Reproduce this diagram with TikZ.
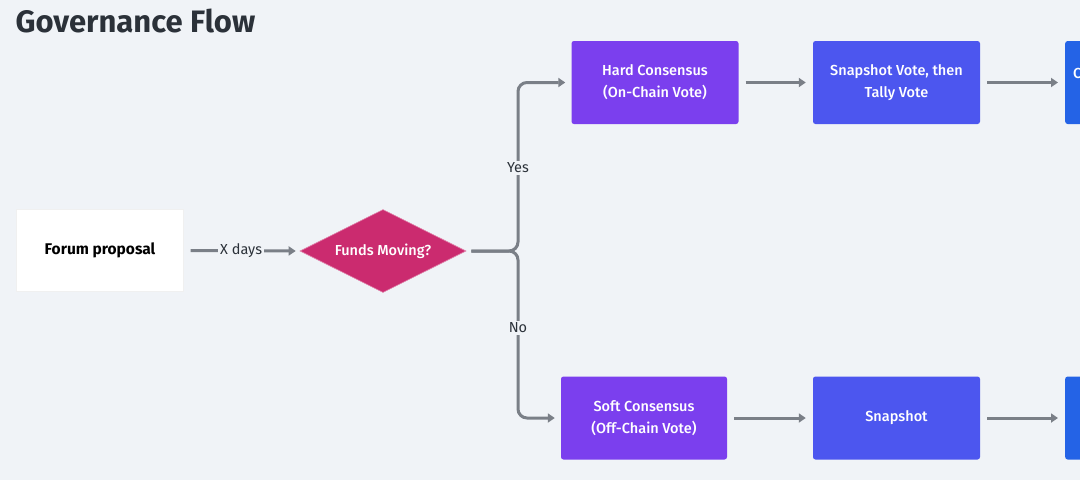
\documentclass[tikz,border=0pt]{standalone}
\usepackage{fontspec}
\setmainfont{Fira Sans}[UprightFont=* Medium, BoldFont=* Bold]
\newfontfamily\regfont{Fira Sans}
\usetikzlibrary{arrows.meta,shapes.geometric}
\definecolor{bg}{HTML}{F0F3F7}
\definecolor{titlec}{HTML}{2B3139}
\definecolor{purp}{HTML}{7B3FEE}
\definecolor{indig}{HTML}{4C56EF}
\definecolor{bluec}{HTML}{2463E6}
\definecolor{mag}{HTML}{CB2B6F}
\definecolor{conn}{HTML}{7A7F87}
\tikzset{
  box/.style={rectangle, rounded corners=2.5pt, minimum width=#1, minimum height=83pt, inner sep=0pt, align=center, text=white, font=\fontsize{14.5}{22}\selectfont},
  box/.default=167pt,
  purplebox/.style={box=#1, fill=purp},
  purplebox/.default=167pt,
  indigobox/.style={box, fill=indig},
  bluebox/.style={box, fill=bluec},
  conn/.style={draw=conn, line width=3pt, -{Triangle[length=7pt,width=9pt]}},
  connlab/.style={fill=bg, inner sep=2pt, text=titlec, font=\regfont\fontsize{14.5}{16}\selectfont},
}
\begin{document}
\begin{tikzpicture}[x=1pt,y=-1pt]
\useasboundingbox (0,0) rectangle (1080,480);
\fill[bg] (0,0) rectangle (1080,480);
\clip (0,0) rectangle (1080,480);
\node[anchor=west, text=titlec, font=\fontsize{31}{32}\selectfont\bfseries] (title) at (12,21) {Governance Flow};

\node[rectangle, fill=white, draw=black!6, minimum width=167pt, minimum height=82pt, inner sep=0pt, font=\fontsize{15.5}{17}\selectfont\bfseries] (forum) at (100,250.5) {Forum proposal};
\node[diamond, fill=mag, draw=mag!60!white, line width=0.6pt, minimum width=166pt, minimum height=83pt, inner sep=0pt, aspect=2, text=white, font=\fontsize{14.5}{16}\selectfont] (funds) at (383,251) {Funds Moving?};

\node[purplebox] (hard) at (655,82.5) {Hard Consensus\\(On-Chain Vote)};
\node[indigobox] (snapvote) at (896.5,82.5) {Snapshot Vote, then\\Tally Vote};
\node[bluebox, anchor=west] (topright) at (1065,82.5) {};
\node[anchor=west, text=white, font=\fontsize{14.5}{22}\selectfont, inner sep=0pt] (toprighttext) at (1073,73) {C};

\node[purplebox=166pt] (soft) at (644,418) {Soft Consensus\\(Off-Chain Vote)};
\node[indigobox] (snap) at (896.5,418) {Snapshot};
\node[bluebox, anchor=west] (botright) at (1065,418) {};

\coordinate (fe) at ([xshift=7pt]forum.east);
\coordinate (de) at ([xshift=5pt]funds.east);
\coordinate (up) at (518,82.5);
\coordinate (down) at (518,418);

\draw[conn] (fe) -- node[connlab, pos=0.48] (xdays) {X days} ([xshift=-4pt]funds.west);
\draw[conn, rounded corners=9pt] (de) -| (up) -- ([xshift=-6pt]hard.west);
\draw[conn, rounded corners=9pt] (de) -| (down) -- ([xshift=-6pt]soft.west);
\node[connlab] (yes) at (518,168) {Yes};
\node[connlab] (no) at (518,328) {No};

\draw[conn] ([xshift=7pt]hard.east) -- ([xshift=-7pt]snapvote.west);
\draw[conn] ([xshift=7pt]snapvote.east) -- ([xshift=-7pt]topright.west);
\draw[conn] ([xshift=7pt]soft.east) -- ([xshift=-7pt]snap.west);
\draw[conn] ([xshift=7pt]snap.east) -- ([xshift=-7pt]botright.west);
\end{tikzpicture}
\end{document}
